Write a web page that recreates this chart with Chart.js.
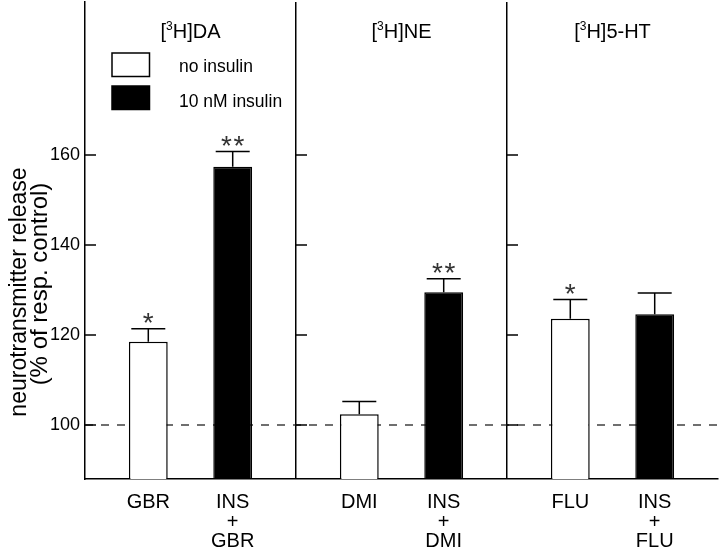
<!DOCTYPE html>
<html>
<head>
<meta charset="utf-8">
<script src="https://cdn.jsdelivr.net/npm/chart.js@4.4.0/dist/chart.umd.min.js"></script>
<style>
  html, body { margin: 0; padding: 0; background: #fff; }
  #wrap { width: 720px; height: 549px; position: relative; }
</style>
</head>
<body>
<div id="wrap"><canvas id="releaseChart"></canvas></div>
<script>
// data
const panelNames = ["DA", "NE", "5-HT"];
const drugs = ["GBR", "DMI", "FLU"];
const seriesNames = ["no insulin", "10 nM insulin"];
const noInsulin = [118.5, 102.4, 123.6];
const noInsulinErr = [2.9, 2.85, 4.3];
const insulin = [157.4, 129.5, 124.6];
const insulinErr = [3.4, 3.0, 4.75];
const noInsulinSig = ["*", "", "*"];
const insulinSig = ["**", "**", ""];
const yTicks = [100, 120, 140, 160];
const yMin = 88;
const yMax = 194;
const controlLevel = 100;

const FONT = '"Liberation Sans", Arial, sans-serif';

const decorPlugin = {
  id: "decor",
  beforeDatasetsDraw(chart) {
    const { ctx, chartArea, scales } = chart;
    const x = scales.x, y = scales.y;
    ctx.save();
    // dashed control line
    const yc = y.getPixelForValue(controlLevel);
    ctx.setLineDash([8, 8]);
    ctx.strokeStyle = "#111";
    ctx.lineWidth = 1.2;
    ctx.beginPath();
    ctx.moveTo(chartArea.left, yc);
    ctx.lineTo(chartArea.right, yc);
    ctx.stroke();
    ctx.setLineDash([]);

    // inward tick marks on every panel's left edge
    const w = x.width / panelNames.length;
    ctx.strokeStyle = "#000";
    ctx.lineWidth = 1.5;
    panelNames.forEach((_, p) => {
      const bx = x.getPixelForValue(p) - w / 2;
      yTicks.forEach((v) => {
        const py = y.getPixelForValue(v);
        ctx.beginPath();
        ctx.moveTo(bx, py);
        ctx.lineTo(bx + 11, py);
        ctx.stroke();
      });
    });
    ctx.restore();
  },
  afterDatasetsDraw(chart) {
    const { ctx, chartArea, scales } = chart;
    const x = scales.x, y = scales.y;
    const errs = [noInsulinErr, insulinErr];
    const sigs = [noInsulinSig, insulinSig];
    ctx.save();

    chart.data.datasets.forEach((ds, d) => {
      const meta = chart.getDatasetMeta(d);
      meta.data.forEach((bar, i) => {
        const top = y.getPixelForValue(ds.data[i]);
        const cap = y.getPixelForValue(ds.data[i] + errs[d][i]);
        ctx.strokeStyle = "#000";
        ctx.lineWidth = 1.5;
        ctx.beginPath();
        ctx.moveTo(bar.x, top);
        ctx.lineTo(bar.x, cap);
        ctx.moveTo(bar.x - 17, cap);
        ctx.lineTo(bar.x + 17, cap);
        ctx.stroke();

        // significance stars
        const s = sigs[d][i];
        ctx.font = "28px " + FONT;
        ctx.fillStyle = "#333";
        ctx.textAlign = "center";
        ctx.textBaseline = "alphabetic";
        const m = ctx.measureText("*");
        for (let k = 0; k < s.length; k++) {
          const ax = bar.x + (k - (s.length - 1) / 2) * 12.5;
          const cy = cap - 10.5;
          ctx.fillText("*", ax, cy + (m.actualBoundingBoxAscent - m.actualBoundingBoxDescent) / 2);
        }

        // labels under each bar
        const lines = d === 0 ? [drugs[i]] : ["INS", "+", drugs[i]];
        ctx.fillStyle = "#000";
        ctx.font = "20px " + FONT;
        lines.forEach((t, k) => {
          ctx.fillText(t, bar.x, chartArea.bottom + 29 + k * 19.5);
        });
      });
    });

    // panel titles with superscript 3
    panelNames.forEach((name, p) => {
      const cx = x.getPixelForValue(p);
      const parts = [["[", 20, 0], ["3", 12, -8], ["H]" + name, 20, 0]];
      let total = 0;
      parts.forEach((pt) => {
        ctx.font = pt[1] + "px " + FONT;
        total += ctx.measureText(pt[0]).width;
      });
      let sx = cx - total / 2;
      ctx.textAlign = "left";
      ctx.fillStyle = "#000";
      parts.forEach((pt) => {
        ctx.font = pt[1] + "px " + FONT;
        ctx.fillText(pt[0], sx, 38 + pt[2]);
        sx += ctx.measureText(pt[0]).width;
      });
    });

    // legend
    const lx = chartArea.left + 27;
    const boxY = [53, 86];
    const textY = [71.5, 106.5];
    chart.data.datasets.forEach((ds, d) => {
      ctx.fillStyle = ds.backgroundColor;
      ctx.fillRect(lx, boxY[d], 37.5, 23.5);
      ctx.strokeStyle = "#000";
      ctx.lineWidth = 1.5;
      ctx.strokeRect(lx, boxY[d], 37.5, 23.5);
      ctx.fillStyle = "#000";
      ctx.font = "17.5px " + FONT;
      ctx.textAlign = "left";
      ctx.fillText(ds.label, 179, textY[d]);
    });

    // y axis title, two lines
    ctx.fillStyle = "#000";
    ctx.textAlign = "center";
    ctx.font = "23px " + FONT;
    ctx.save();
    ctx.translate(26, 292);
    ctx.rotate(-Math.PI / 2);
    ctx.fillText("neurotransmitter release", 0, 0);
    ctx.restore();
    ctx.font = "24px " + FONT;
    ctx.save();
    ctx.translate(47, 284);
    ctx.rotate(-Math.PI / 2);
    ctx.fillText("(% of resp. control)", 0, 0);
    ctx.restore();

    ctx.restore();
  }
};

new Chart(document.getElementById("releaseChart"), {
  type: "bar",
  data: {
    labels: panelNames,
    datasets: [
      {
        label: seriesNames[0],
        data: noInsulin,
        backgroundColor: "#fff",
        borderColor: "#000",
        borderWidth: 1.5,
        categoryPercentage: 0.8,
        barPercentage: 0.46,
      },
      {
        label: seriesNames[1],
        data: insulin,
        backgroundColor: "#000",
        borderColor: "#000",
        borderWidth: 1.5,
        categoryPercentage: 0.8,
        barPercentage: 0.46,
      },
    ],
  },
  options: {
    responsive: true,
    maintainAspectRatio: false,
    animation: false,
    layout: { padding: { top: 2, right: 2, left: 0, bottom: 0 } },
    plugins: {
      legend: { display: false },
      tooltip: { enabled: false },
    },
    scales: {
      x: {
        type: "category",
        offset: true,
        ticks: { display: false },
        grid: {
          offset: true,
          drawTicks: false,
          lineWidth: 1.5,
          color: (c) => (c.index > 0 && c.index < panelNames.length ? "#000" : "rgba(0,0,0,0)"),
        },
        border: { display: true, color: "#000", width: 1.5 },
        afterFit: (scale) => { scale.height = 70; },
      },
      y: {
        min: yMin,
        max: yMax,
        afterBuildTicks: (scale) => {
          scale.ticks = yTicks.map((v) => ({ value: v }));
        },
        ticks: {
          color: "#000",
          padding: 5,
          font: { family: FONT, size: 18 },
        },
        grid: { display: false, drawTicks: false },
        border: { display: true, color: "#000", width: 1.5 },
        afterFit: (scale) => {
          scale.width = 85;
          scale.paddingTop = 0;
          scale.paddingBottom = 0;
        },
      },
    },
  },
  plugins: [decorPlugin],
});
</script>
</body>
</html>
